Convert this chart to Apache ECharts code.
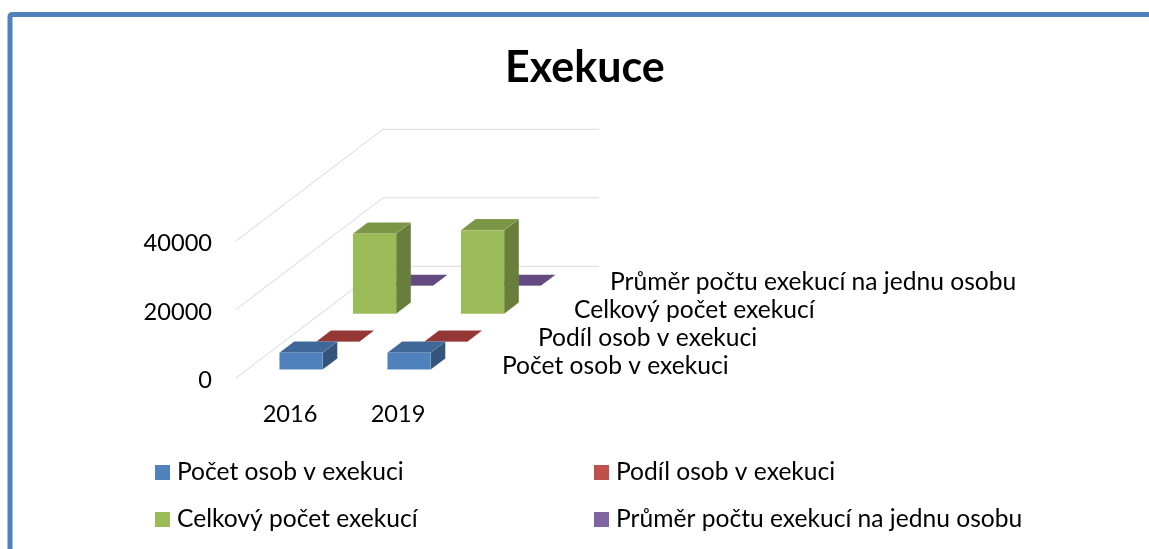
<!DOCTYPE html>
<html><head><meta charset="utf-8">
<style>html,body{margin:0;padding:0;background:#fff}#c{width:1149px;height:549px}</style>
<script src="https://cdn.jsdelivr.net/npm/echarts@6/dist/echarts.min.js"></script>
</head><body><div id="c"></div>
<script>
const categories = ['2016', '2019'];
const seriesNames = ['Počet osob v exekuci', 'Podíl osob v exekuci', 'Celkový počet exekucí', 'Průměr počtu exekucí na jednu osobu'];
const pocetOsob = [4950, 4950];
const podilOsob = [10, 10];
const celkovyPocet = [23400, 24400];
const prumerPoctu = [5, 5];
const yTicks = [0, 20000, 40000];

const allValues = [pocetOsob, podilOsob, celkovyPocet, prumerPoctu];
const palette = [
  { front: '#4f81bd', top: '#3f6797', side: '#34547c' },
  { front: '#c0504d', top: '#953735', side: '#7d2f2d' },
  { front: '#9bbb59', top: '#7c9647', side: '#687e3b' },
  { front: '#8064a2', top: '#634a80', side: '#52406b' }
];
const FONT = 'Lato';
const LABEL_SIZE = 24.6;
const TICK_SIZE = 23.6;
const DEPTH_X = 147, DEPTH_Y = -111.7;
const SLOT_X = DEPTH_X / 4, SLOT_Y = DEPTH_Y / 4;

function wallItem(params, api) {
  const v = api.value(0);
  const bw = api.size([1, 0])[0];
  const p0 = api.coord([0, v]);
  const x0 = p0[0] - bw / 2, y0 = p0[1];
  const xb = x0 + DEPTH_X, yb = y0 + DEPTH_Y;
  const style = { stroke: '#d9d9d9', lineWidth: 1, fill: null };
  return { type: 'polyline', shape: { points: [[x0, y0], [xb, yb], [xb + bw * categories.length, yb]] }, style };
}
function barItem(slot) {
  return function (params, api) {
    const cat = api.value(0);
    const base = api.coord([cat, 0]);
    const top = api.coord([cat, api.value(1)]);
    const bw = api.size([1, 0])[0];
    const w = bw / 2.5;
    const ox = SLOT_X * (slot + 0.3), oy = SLOT_Y * (slot + 0.3);
    const dx = SLOT_X * 0.4, dy = SLOT_Y * 0.4;
    const l = base[0] - w / 2 + ox, r = l + w;
    const b = base[1] + oy, t = top[1] + oy;
    const c = palette[slot];
    const poly = (pts, fill) => ({ type: 'polygon', shape: { points: pts }, style: { fill, stroke: 'rgba(255,255,255,0.12)', lineWidth: 0.5 } });
    return { type: 'group', children: [
      poly([[r, b], [r + dx, b + dy], [r + dx, t + dy], [r, t]], c.side),
      poly([[l, t], [r, t], [r + dx, t + dy], [l + dx, t + dy]], c.top),
      poly([[l, b], [r, b], [r, t], [l, t]], c.front)
    ] };
  };
}
function depthLabelItem(params, api) {
  const i = params.dataIndex;
  const bw = api.size([1, 0])[0];
  const p = api.coord([categories.length - 1, 0]);
  return { type: 'text', style: {
    x: p[0] + bw / 2 + 36 * (i + 0.5) + 32,
    y: p[1] + SLOT_Y * (i + 0.5) + 2,
    text: seriesNames[i], fill: '#000', font: LABEL_SIZE + 'px ' + FONT,
    textAlign: 'left', textVerticalAlign: 'middle' } };
}
const barSeries = seriesNames.map((name, i) => ({
  type: 'custom', name, coordinateSystem: 'cartesian2d',
  itemStyle: { color: palette[i].front },
  renderItem: barItem(i), encode: { x: 0, y: 1 },
  data: allValues[i].map((v, k) => [k, v]), z: 10 + (3 - i)
}));
const legendBase = { itemWidth: 15, itemHeight: 15, icon: 'rect', selectedMode: false, padding: 0, orient: 'horizontal',
  textStyle: { fontFamily: FONT, fontSize: LABEL_SIZE, color: '#000', padding: [0, 0, 0, 2] } };
const chart = echarts.init(document.getElementById('c'));
chart.setOption({
  animation: false, backgroundColor: '#fff',
  title: { text: 'Exekuce', left: 505, top: 47, padding: 0, textStyle: { fontFamily: FONT, fontWeight: 'bold', fontSize: 43, color: '#000' } },
  grid: { left: 236, top: 241, width: 216, height: 137 },
  xAxis: { type: 'category', data: categories, axisLine: { show: false }, axisTick: { show: false },
    axisLabel: { fontFamily: FONT, fontSize: TICK_SIZE, color: '#000', margin: 24 } },
  yAxis: { type: 'value', min: 0, max: 40000, interval: 20000, axisLine: { show: false }, axisTick: { show: false }, splitLine: { show: false },
    axisLabel: { color: '#000', margin: 24, formatter: v => '{t|' + v + '}',
      rich: { t: { fontFamily: FONT, fontSize: TICK_SIZE, color: '#000', padding: [5, 0, 0, 0] } } } },
  legend: [
    { ...legendBase, data: [seriesNames[0]], left: 155, top: 460 },
    { ...legendBase, data: [seriesNames[1]], left: 594, top: 460 },
    { ...legendBase, data: [seriesNames[2]], left: 155, top: 507 },
    { ...legendBase, data: [seriesNames[3]], left: 594, top: 507 }
  ],
  graphic: [{ type: 'rect', shape: { x: 10, y: 14.5, width: 1300, height: 700, r: 2 }, style: { fill: 'none', stroke: '#4f81bd', lineWidth: 5 }, silent: true }],
  series: [
    { type: 'custom', name: 'walls', coordinateSystem: 'cartesian2d', renderItem: wallItem, encode: { y: 0 }, data: yTicks.map(v => [v]), z: 1, silent: true },
    ...barSeries,
    { type: 'custom', name: 'depth', coordinateSystem: 'cartesian2d', renderItem: depthLabelItem, data: seriesNames.map((n, i) => [i]), encode: { x: [], y: [] }, z: 20, silent: true }
  ]
});
</script></body></html>
